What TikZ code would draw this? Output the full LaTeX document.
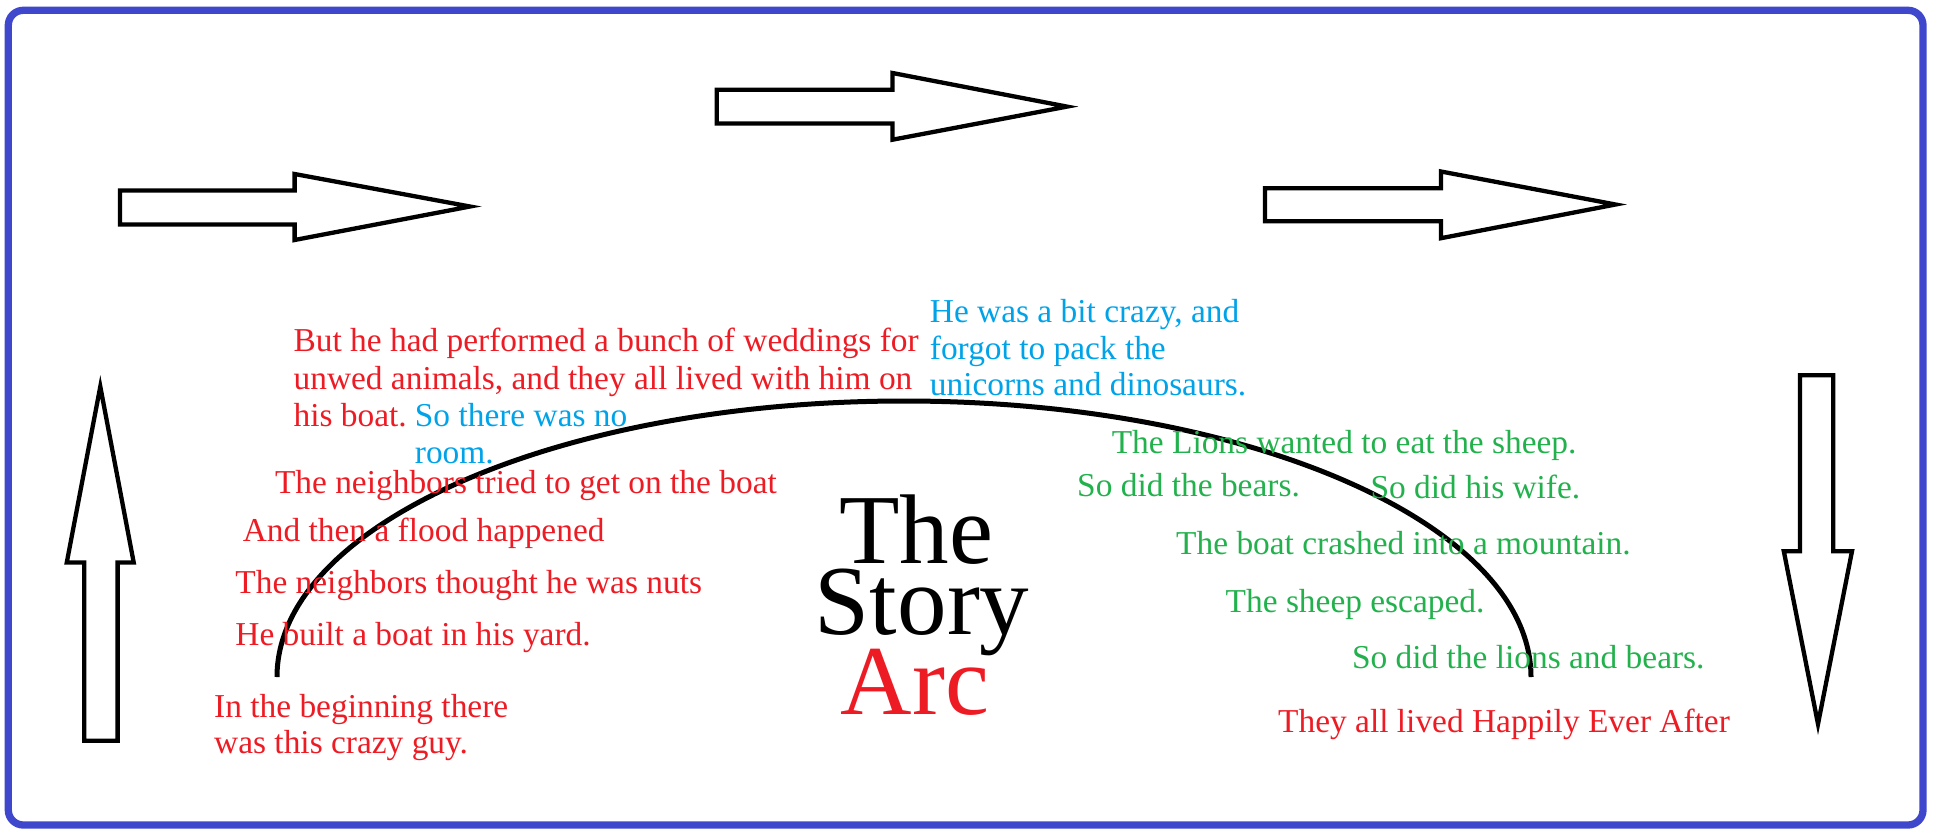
\documentclass[tikz,border=0pt]{standalone}
\usepackage{fontspec}
\setmainfont{Liberation Serif}
\definecolor{frameblue}{RGB}{63,72,204}
\definecolor{pred}{RGB}{237,28,36}
\definecolor{pblue}{RGB}{0,162,232}
\definecolor{pgreen}{RGB}{34,177,76}
\tikzset{
  txt/.style={anchor=base west, inner sep=0pt, font=\fontsize{33.4}{37.4}\selectfont},
  redtxt/.style={txt, text=pred},
  bluetxt/.style={txt, text=pblue},
  greentxt/.style={txt, text=pgreen},
  titletxt/.style={anchor=base, inner sep=0pt, font=\fontsize{99}{75}\selectfont},
  blockarrow/.style={draw=black, line width=4.3pt, fill=white, line join=miter},
}
\begin{document}
\begin{tikzpicture}[x=1pt,y=-1pt]
\useasboundingbox (0,0) rectangle (1941,839);
% frame
\draw[frameblue, line width=7.3pt, rounded corners=15pt] (8.3,10.3) rectangle (1923,825);
% right arrows
\draw[blockarrow] (120,190.5) -- (294.6,190.5) -- (294.6,174) -- (470,206.5) -- (294.6,240) -- (294.6,224.5) -- (120,224.5) -- cycle;
\draw[blockarrow] (716.7,89.8) -- (892.5,89.8) -- (892.5,73) -- (1067,106.6) -- (892.5,139.7) -- (892.5,123.5) -- (716.7,123.5) -- cycle;
\draw[blockarrow] (1265,188.3) -- (1441,188.3) -- (1441,171.5) -- (1615.5,204.5) -- (1441,238.2) -- (1441,221.3) -- (1265,221.3) -- cycle;
% up arrow
\draw[blockarrow] (84.2,740.7) -- (84.2,562.4) -- (66.8,562.4) -- (100.3,386.6) -- (133.7,562.4) -- (117.6,562.4) -- (117.6,740.7) -- cycle;
% down arrow
\draw[blockarrow] (1800,375.3) -- (1800,551.2) -- (1783.8,551.2) -- (1818,724) -- (1852,551.2) -- (1833.3,551.2) -- (1833.3,375.3) -- cycle;
% story arc
\draw[line width=5pt] (277,677) arc[start angle=180, end angle=360, x radius=627, y radius=276];
% red texts
\node[redtxt] (r1a) at (293.4,351.7) {But he had performed a bunch of weddings for};
\node[redtxt] (r1b) at (293.4,389.1) {unwed animals, and they all lived with him on};
\node[redtxt] (r1c) at (293.4,426.5) {his boat.};
\node[bluetxt] (b2a) at (414.7,426.5) {So there was no};
\node[bluetxt] (b2b) at (414.7,463.9) {room.};
\node[redtxt] (r2) at (274.8,493.8) {The neighbors tried to get on the boat};
\node[redtxt] (r3) at (242.6,541.8) {And then a flood happened};
\node[redtxt] (r4) at (235.2,593) {The neighbors thought he was nuts};
\node[redtxt] (r5) at (235.2,645.3) {He built a boat in his yard.};
\node[redtxt] (r6a) at (214,717) {In the beginning there};
\node[redtxt] (r6b) at (214,753.5) {was this crazy guy.};
\node[redtxt] (r7) at (1278,732) {They all lived Happily Ever After};
% blue texts
\node[bluetxt] (b1a) at (929.7,322.4) {He was a bit crazy, and};
\node[bluetxt] (b1b) at (929.7,359.1) {forgot to pack the};
\node[bluetxt] (b1c) at (929.7,395.9) {unicorns and dinosaurs.};
% green texts
\node[greentxt] (g1) at (1111.6,453.3) {The Lions wanted to eat the sheep.};
\node[greentxt] (g2) at (1077,496.3) {So did the bears.};
\node[greentxt] (g3) at (1370.4,498.8) {So did his wife.};
\node[greentxt] (g4) at (1176,554.9) {The boat crashed into a mountain.};
\node[greentxt] (g5) at (1225.5,612.3) {The sheep escaped.};
\node[greentxt] (g6) at (1351.8,668.4) {So did the lions and bears.};
% title
\node[titletxt] (t1) at (916,563.6) {The};
\node[titletxt] (t2) at (922.2,634.7) {Story};
\node[titletxt, text=pred] (t3) at (914.8,714.5) {Arc};
\end{tikzpicture}
\end{document}
